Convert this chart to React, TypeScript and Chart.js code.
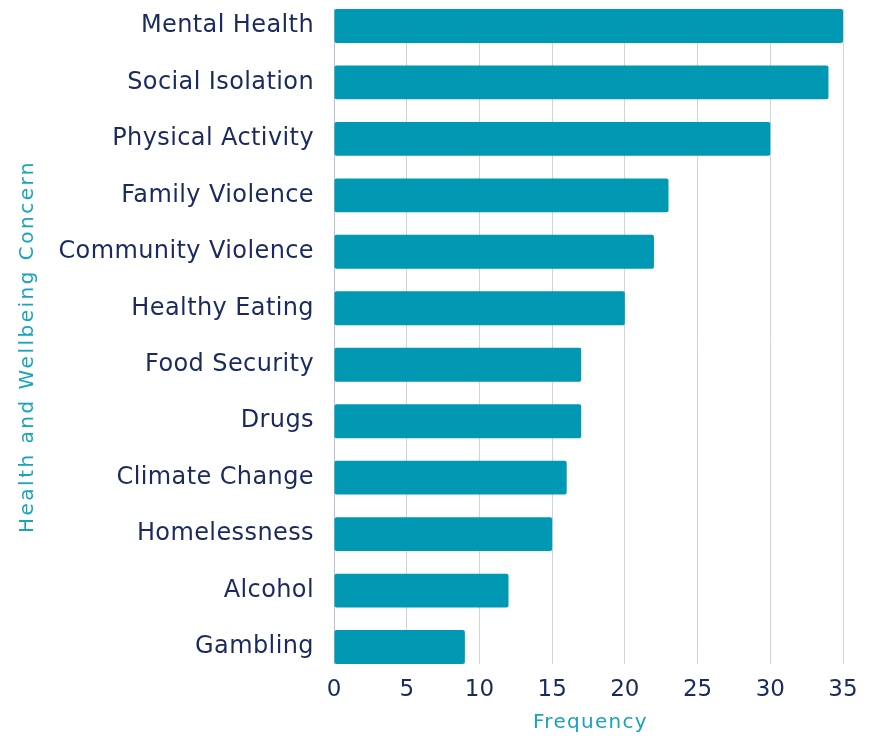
import React, { useEffect, useRef } from "react";
import { Chart, registerables } from "chart.js";

Chart.register(...registerables);

const categories = [
  "Mental Health",
  "Social Isolation",
  "Physical Activity",
  "Family Violence",
  "Community Violence",
  "Healthy Eating",
  "Food Security",
  "Drugs",
  "Climate Change",
  "Homelessness",
  "Alcohol",
  "Gambling",
];
const frequency = [35, 34, 30, 23, 22, 20, 17, 17, 16, 15, 12, 9];
const xTicks = [0, 5, 10, 15, 20, 25, 30, 35];

const NAVY = "#1b2a5e";
const TEAL = "#19a3bd";
const BAR = "#0098b3";
const GRID = "#d0d3e0";
const ZERO = "#b9bfd2";
const FONT = "'DejaVu Sans', sans-serif";

function patchScale(s: any, titleSpacing: number, labelSpacing: number, dx: number, dy: number) {
  if (s.__patched) return;
  s.__patched = true;
  const dt = s.drawTitle.bind(s);
  s.drawTitle = function () {
    const ctx = s.ctx;
    ctx.save();
    ctx.letterSpacing = titleSpacing + "px";
    ctx.translate(dx, dy);
    dt();
    ctx.restore();
  };
  const dl = s.drawLabels.bind(s);
  s.drawLabels = function (area: any) {
    const ctx = s.ctx;
    ctx.save();
    ctx.letterSpacing = labelSpacing + "px";
    dl(area);
    ctx.restore();
  };
}

export default function App() {
  const ref = useRef<HTMLCanvasElement | null>(null);
  useEffect(() => {
    if (!ref.current) return;
    const chart = new Chart(ref.current, {
      type: "bar",
      data: {
        datasets: [
          {
            data: frequency.map((v, i) => ({ x: v, y: i })),
            backgroundColor: BAR,
            borderRadius: 2,
            borderSkipped: false,
            barPercentage: 0.6,
            categoryPercentage: 1,
          },
        ],
      },
      options: {
        indexAxis: "y",
        animation: false,
        responsive: false,
        layout: { padding: { top: 9, right: 26, bottom: 0, left: 0 } },
        plugins: { legend: { display: false }, tooltip: { enabled: false } },
        scales: {
          x: {
            type: "linear",
            min: xTicks[0],
            max: xTicks[xTicks.length - 1],
            afterBuildTicks: (s: any) => {
              s.ticks = xTicks.map((v) => ({ value: v }));
            },
            afterFit: (s: any) => {
              s.height = 72;
              s.paddingLeft = 0;
              s.paddingRight = 0;
              patchScale(s, 1.3, 0, 2, 0);
            },
            grid: {
              color: (c: any) => (c.tick && c.tick.value === 0 ? ZERO : GRID),
              lineWidth: 1,
              drawTicks: false,
            },
            border: { display: false },
            ticks: {
              color: NAVY,
              font: { family: FONT, size: 23 },
              padding: 12,
            },
            title: {
              display: true,
              text: "Frequency",
              color: TEAL,
              font: { family: FONT, size: 20 },
              padding: { top: 0, bottom: 1.5 },
            },
          },
          y: {
            type: "linear",
            reverse: true,
            offset: false,
            min: -0.3,
            max: 11.3,
            afterBuildTicks: (s: any) => {
              s.ticks = categories.map((_, i) => ({ value: i }));
            },
            afterFit: (s: any) => {
              s.width = 334;
              s.paddingTop = 0;
              s.paddingBottom = 0;
              patchScale(s, 2.5, 0.4, 0, 10);
            },
            grid: { display: false, drawTicks: false, offset: false },
            border: { display: false },
            ticks: {
              autoSkip: false,
              color: NAVY,
              font: { family: FONT, size: 24 },
              padding: 20,
              callback: (v: any) => categories[v as number] ?? "",
            },
            title: {
              display: true,
              text: "Health and Wellbeing Concern",
              color: TEAL,
              font: { family: FONT, size: 20 },
              padding: { top: 15.5, bottom: 0 },
            },
          },
        },
      },
    } as any);
    return () => chart.destroy();
  }, []);
  return (
    <div style={{ position: "fixed", left: 0, top: 0, width: 869, height: 736 }}>
      <canvas ref={ref} width={869} height={736} style={{ display: "block" }} />
    </div>
  );
}
